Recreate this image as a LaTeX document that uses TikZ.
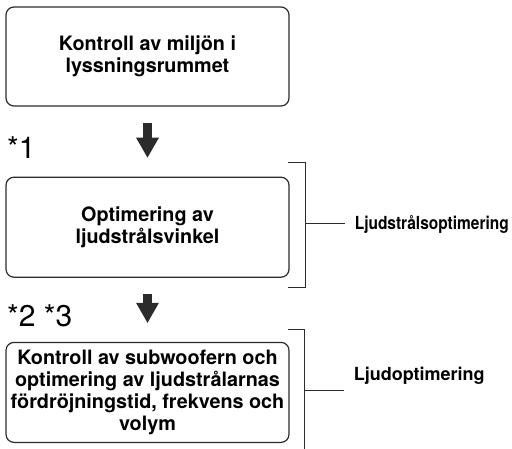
\documentclass[tikz,border=0pt]{standalone}
\usepackage{fontspec}
\setmainfont{TeX Gyre Heros}
\newfontfamily\narrowfont[FakeStretch=0.86]{TeX Gyre Heros}
\usepackage{xcolor}
\usetikzlibrary{arrows.meta,positioning}
\definecolor{inkgray}{HTML}{2B2B2B}

\begin{document}
\begin{tikzpicture}[
    x=1pt, y=1pt,
    stepbox/.style={draw=inkgray, line width=1.2pt, rounded corners=8pt, minimum width=283pt, minimum height=100pt, align=center, inner sep=0pt, font=\fontsize{19.8pt}{22pt}\selectfont\bfseries},
    flow/.style={draw=inkgray, line width=9pt, -{Triangle[length=20pt,width=23pt,line width=0pt]}, shorten <=16pt, shorten >=19pt},
    brace/.style={draw=inkgray, line width=1.2pt},
    note/.style={anchor=base west, inner sep=0pt, font=\fontsize{30pt}{30pt}\selectfont},
    tag/.style={anchor=base west, inner sep=0pt, font=\fontsize{18pt}{18pt}\selectfont\bfseries}
]
\useasboundingbox (0,0) rectangle (512,-448);
\node[stepbox, minimum height=99pt] (miljo) at (147.5,-56.5) {Kontroll av miljön i\\lyssningsrummet};
\node[stepbox, below=70pt of miljo] (vinkel) {Optimering av\\ljudstrålsvinkel};
\node[stepbox, below=64pt of vinkel] (subw) {Kontroll av subwoofern och\\optimering av ljudstrålarnas\\fördröjningstid, frekvens och\\volym};

\draw[flow] (miljo) -- (vinkel);
\draw[flow] (vinkel) -- (subw);

\node[note] (not1) at (7,-158) {*1};
\node[note] (not23) at (7,-326) {*2 *3};

% brackets on the right
\coordinate (b1top) at ([xshift=-2pt,yshift=14pt]vinkel.north east);
\coordinate (b1mid) at ([xshift=16pt,yshift=4pt]vinkel.east);
\coordinate (b1bot) at ([xshift=-2pt,yshift=-10pt]vinkel.south east);
\draw[brace] (b1top) -| (b1mid) |- (b1bot);
\draw[brace] (b1mid) -- ++(39,0) coordinate (b1end);
\node[tag] (lbl1) at ([xshift=10pt,yshift=-6pt]b1end) {\narrowfont Ljudstrålsoptimering};

\coordinate (b2top) at ([xshift=-2pt,yshift=12pt]subw.north east);
\coordinate (b2mid) at ([xshift=15pt,yshift=2pt]subw.east);
\coordinate (b2bot) at ([xshift=15pt,yshift=-12pt]subw.south east);
\draw[brace] (b2top) -| (b2mid) -- (b2bot);
\draw[brace] (b2mid) -- ++(39,0) coordinate (b2end);
\node[tag] (lbl2) at ([xshift=10pt,yshift=10pt]b2end) {Ljudoptimering};
\end{tikzpicture}
\end{document}
